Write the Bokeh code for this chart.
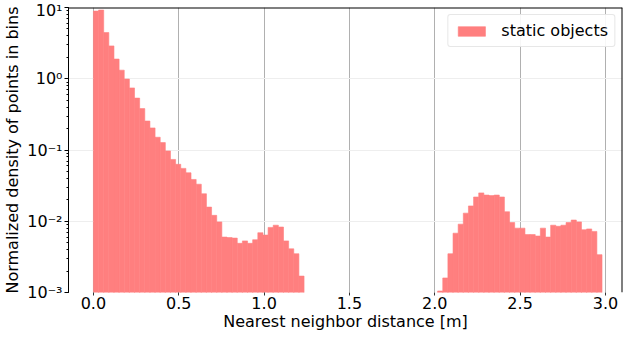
import numpy as np
from bokeh.plotting import figure
from bokeh.models import Range1d, Span, CustomJSTickFormatter, FixedTicker, LogTicker, PrintfTickFormatter
from bokeh.embed import file_html
from bokeh.resources import INLINE

# ---- data -------------------------------------------------------------
bin_lo = 0.0
bin_hi = 2.98
n_bins = 99

# bins 0..40
near_vals = [8.9, 9.2, 4.45, 2.89, 1.89, 1.32, 0.99, 0.743, 0.535, 0.381,
             0.255, 0.204, 0.151, 0.127, 0.097, 0.0737, 0.063, 0.0552, 0.0479, 0.0386,
             0.0331, 0.0243, 0.0158, 0.0121, 0.0098, 0.0060, 0.0059, 0.0058, 0.0049, 0.0053,
             0.0049, 0.0055, 0.0069, 0.0064, 0.0082, 0.0088, 0.0083, 0.0053, 0.0041, 0.0035,
             0.0017]
# bins 67..98
far_start_bin = 67
far_vals = [0.00105, 0.0016, 0.0035, 0.0068, 0.0091, 0.0130, 0.0164, 0.0219, 0.0250, 0.0233,
            0.0229, 0.0233, 0.0219, 0.0136, 0.0096, 0.0080, 0.0080, 0.0065, 0.0065, 0.0062,
            0.0080, 0.0060, 0.0088, 0.0085, 0.0088, 0.0096, 0.0104, 0.0098, 0.0076, 0.0078,
            0.0072, 0.0034]

x_ticks = [0.0, 0.5, 1.0, 1.5, 2.0, 2.5, 3.0]
y_ticks = [1e-3, 1e-2, 1e-1, 1e0, 1e1]
series_name = "static objects"
x_label = "Nearest neighbor distance [m]"
y_label = "Normalized density of points in bins"

# ---- histogram table --------------------------------------------------
edges = np.linspace(bin_lo, bin_hi, n_bins + 1)
counts = np.zeros(n_bins)
counts[:len(near_vals)] = near_vals
counts[far_start_bin:far_start_bin + len(far_vals)] = far_vals
mask = counts > 0
left = edges[:-1][mask]
right = edges[1:][mask]
top = counts[mask]

FONT = "DejaVu Sans"
FS = "16px"
BAR = "#ff7f7f"

p = figure(width=624, height=333, y_axis_type="log",
           x_range=Range1d(-0.146, 3.10), y_range=Range1d(1e-3, 10),
           output_backend="svg", toolbar_location=None,
           min_border_left=65, min_border_right=2, min_border_top=7, min_border_bottom=20)

p.quad(left=left, right=right, bottom=1e-4, top=top,
       fill_color=BAR, line_color=BAR, line_width=0.6, legend_label=series_name)

# grid
p.xgrid.ticker = FixedTicker(ticks=x_ticks)
p.xgrid.grid_line_color = "#b0b0b0"
p.xgrid.grid_line_width = 1
p.ygrid.ticker = FixedTicker(ticks=y_ticks)
p.ygrid.grid_line_color = "#eeeeee"
p.ygrid.grid_line_width = 1

p.outline_line_color = None

# x axis
p.xaxis.ticker = FixedTicker(ticks=x_ticks)
p.xaxis.formatter = PrintfTickFormatter(format="%.1f")
p.xaxis.axis_label = x_label
p.xaxis.axis_line_color = None
p.xaxis.major_tick_out = 3
p.xaxis.major_tick_in = 0
p.xaxis.minor_tick_out = 0
p.xaxis.major_tick_line_color = "#333333"
p.xaxis.major_label_standoff = 1
p.xaxis.axis_label_standoff = 0
p.xaxis.major_label_text_font = FONT
p.xaxis.major_label_text_font_size = FS
p.xaxis.major_label_text_color = "black"
p.xaxis.axis_label_text_font = FONT
p.xaxis.axis_label_text_font_size = FS
p.xaxis.axis_label_text_font_style = "normal"
p.xaxis.axis_label_text_color = "black"

# y axis
p.yaxis.ticker = LogTicker(num_minor_ticks=10)
p.yaxis.formatter = CustomJSTickFormatter(code="""
const sup = {'-':'\u207b','0':'\u2070','1':'\u00b9','2':'\u00b2','3':'\u00b3','4':'\u2074',
             '5':'\u2075','6':'\u2076','7':'\u2077','8':'\u2078','9':'\u2079'};
const e = Math.round(Math.log10(tick));
return '10' + String(e).split('').map(c => sup[c]).join('');
""")
p.yaxis.axis_label = y_label
p.yaxis.axis_line_color = "black"
p.yaxis.major_tick_out = 4
p.yaxis.major_tick_in = 0
p.yaxis.minor_tick_out = 2
p.yaxis.minor_tick_in = 0
p.yaxis.major_label_standoff = 2
p.yaxis.axis_label_standoff = 2
p.yaxis.major_label_text_font = FONT
p.yaxis.major_label_text_font_size = FS
p.yaxis.major_label_text_color = "black"
p.yaxis.axis_label_text_font = FONT
p.yaxis.axis_label_text_font_size = FS
p.yaxis.axis_label_text_font_style = "normal"
p.yaxis.axis_label_text_color = "black"

# top and right spines
p.add_layout(Span(location=p.y_range.end, dimension="width", line_color="black", line_width=2))
p.add_layout(Span(location=p.x_range.end, dimension="height", line_color="black", line_width=2))

# legend
lg = p.legend[0]
lg.location = "top_right"
lg.margin = 7
lg.padding = 6
lg.spacing = 0
lg.label_text_font = FONT
lg.label_text_font_size = FS
lg.label_text_color = "black"
lg.glyph_width = 34
lg.glyph_height = 12
lg.label_standoff = 13
lg.border_line_color = "#d0d0d0"
lg.border_line_width = 1
lg.background_fill_alpha = 0.9
lg.border_radius = 3

open("out.html", "w").write(file_html(p, INLINE))
